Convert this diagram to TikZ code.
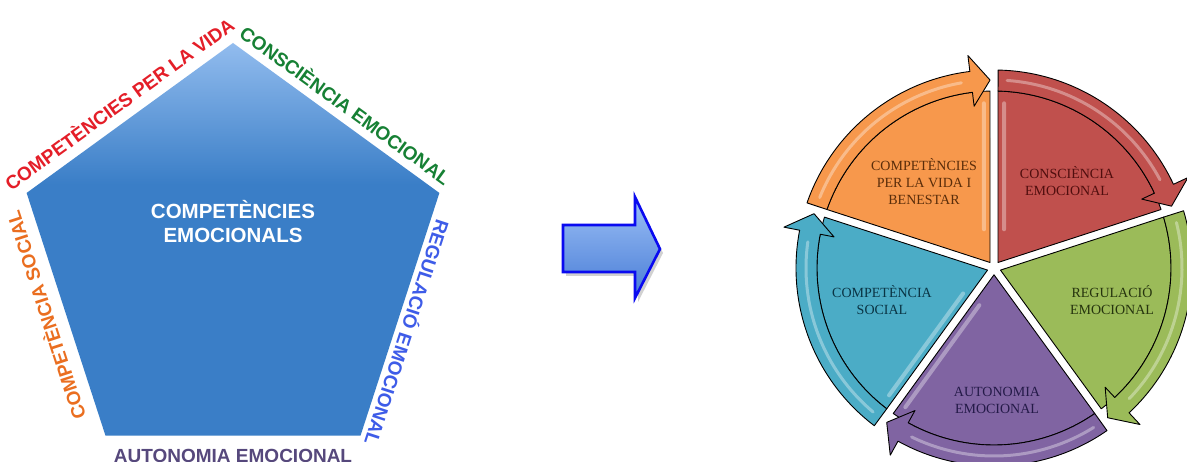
\documentclass[tikz,border=0pt]{standalone}
\usepackage{fontspec}
\newfontfamily\lsans{Liberation Sans}
\newfontfamily\lserif{Liberation Serif}
\usetikzlibrary{calc}
\definecolor{plight}{RGB}{146,188,238}
\definecolor{pblue}{RGB}{58,126,199}
\definecolor{lred}{RGB}{228,30,40}
\definecolor{lgreen}{RGB}{22,128,52}
\definecolor{lblue}{RGB}{62,92,232}
\definecolor{lorange}{RGB}{234,110,32}
\definecolor{lpurple}{RGB}{86,72,124}
\definecolor{arlight}{RGB}{156,192,246}
\definecolor{ardark}{RGB}{72,124,214}
\definecolor{arblue}{RGB}{10,10,240}
\definecolor{corange}{RGB}{247,152,76}
\definecolor{cred}{RGB}{192,80,77}
\definecolor{cgreen}{RGB}{155,187,89}
\definecolor{cpurple}{RGB}{128,100,162}
\definecolor{cteal}{RGB}{75,172,198}
\definecolor{torange}{RGB}{90,45,10}
\definecolor{tred}{RGB}{80,14,14}
\definecolor{tgreen}{RGB}{38,52,14}
\definecolor{tpurple}{RGB}{36,26,72}
\definecolor{tteal}{RGB}{10,52,68}
\pgfdeclareverticalshading{pentshade}{100bp}{color(0bp)=(pblue); color(25bp)=(pblue); color(57bp)=(pblue); color(75bp)=(plight); color(100bp)=(plight)}
\begin{document}
\begin{tikzpicture}[x=1pt,y=1pt,
  edgelbl/.style={font=\lsans\bfseries\fontsize{19}{19}\selectfont, inner sep=0pt, anchor=south},
  segtxt/.style={font=\lserif\fontsize{14}{17}\selectfont, align=center, inner sep=0pt},
  segline/.style={draw=black, line width=0.9pt, line join=round},
  gloss/.style={white, opacity=.35, line cap=round}]
\useasboundingbox (0,0) rectangle (1187,461);
\fill[white] (0,0) rectangle (1187,461);

% ---------- pentagon ----------
\coordinate (pc) at (233,201);
\foreach \a/\n in {90/vt,18/vr,306/vbr,234/vbl,162/vl}
  \coordinate (\n) at ($(pc)+(\a:217pt)$);
\shade[shading=pentshade] (vt) -- (vr) -- (vbr) -- (vbl) -- (vl) -- cycle;
\node[white, font=\lsans\bfseries\fontsize{20.5}{24}\selectfont, align=center, inner sep=0pt] (ptitle) at (233,239) {COMPETÈNCIES\\EMOCIONALS};

\node[edgelbl, text=lred, rotate=36] (lvida) at ($(vl)!0.5!(vt)!10pt!90:(vt)$) {COMPETÈNCIES PER LA VIDA};
\node[edgelbl, text=lgreen, rotate=-36] (lcons) at ($(vt)!0.5!(vr)!8pt!90:(vr)$) {CONSCIÈNCIA EMOCIONAL};
\node[edgelbl, text=lblue, rotate=-108] (lreg) at ($(vr)!0.56!(vbr)!5pt!90:(vbr)$) {REGULACIÓ EMOCIONAL};
\node[edgelbl, anchor=north, text=lpurple] (laut) at ($(vbr)!0.5!(vbl)!13pt!90:(vbl)$) {AUTONOMIA EMOCIONAL};
\node[edgelbl, text=lorange, rotate=108] (lsoc) at ($(vbl)!0.52!(vl)!12pt!90:(vl)$) {COMPETÈNCIA SOCIAL};

% ---------- block arrow ----------
\fill[black, opacity=.18] (566,232) -- (638,232) -- (638,260) -- (663,208) -- (638,159) -- (638,185) -- (566,185) -- cycle;
\shadedraw[top color=arlight, bottom color=ardark, draw=arblue, line width=2.6pt, line join=miter]
  (563,236) -- (635,236) -- (635,264) -- (660,212) -- (635,163) -- (635,189) -- (563,189) -- cycle;

% ---------- segmented cycle ----------
\begin{scope}[shift={(994,193)}]
  \foreach \s/\col in {162/corange,90/cred,18/cgreen,-54/cpurple,-126/cteal}{
    \filldraw[fill=\col, segline]
      ({\s-36}:6.8pt) -- ({\s-1.3}:177pt) arc[start angle=\s-1.3, end angle=\s-70.7, radius=177pt] -- cycle;
  }
  % wedge highlights
  \draw[gloss, line width=4pt] (104.5:40pt) -- (93.5:165pt);
  \draw[gloss, line width=4pt] (75.5:40pt) -- (86.5:165pt);
  \draw[gloss, line width=4pt] (-140.5:40pt) -- (-129.5:165pt);
  \draw[gloss, line width=4pt] (-111.5:40pt) -- (-122.5:165pt);
  % arrow bands
  \foreach \s/\col in {162/corange,90/cred,18/cgreen,-54/cpurple,-126/cteal}{
    \filldraw[fill=\col, segline]
      ({\s-1.3}:177pt) -- ({\s-1.2}:198pt) arc[start angle=\s-1.2, end angle=\s-65, radius=198pt]
      -- ({\s-65}:214pt) -- ({\s-70.8}:188pt) -- ({\s-65}:163pt) -- ({\s-65}:177pt)
      arc[start angle=\s-65, end angle=\s-1.3, radius=177pt] -- cycle;
    \draw[gloss, line width=3pt] ({\s-4}:188pt) arc[start angle=\s-4, end angle=\s-62, radius=188pt];
  }
\end{scope}

\node[segtxt, text=torange] (tvida) at (924,279) {COMPETÈNCIES\\PER LA VIDA I\\BENESTAR};
\node[segtxt, text=tred] (tcons) at (1067,280) {CONSCIÈNCIA\\EMOCIONAL};
\node[segtxt, text=tgreen] (treg) at (1112,161) {REGULACIÓ\\EMOCIONAL};
\node[segtxt, text=tpurple] (taut) at (997,61) {AUTONOMIA\\EMOCIONAL};
\node[segtxt, text=tteal] (tsoc) at (882,161) {COMPETÈNCIA\\SOCIAL};
\end{tikzpicture}
\end{document}
